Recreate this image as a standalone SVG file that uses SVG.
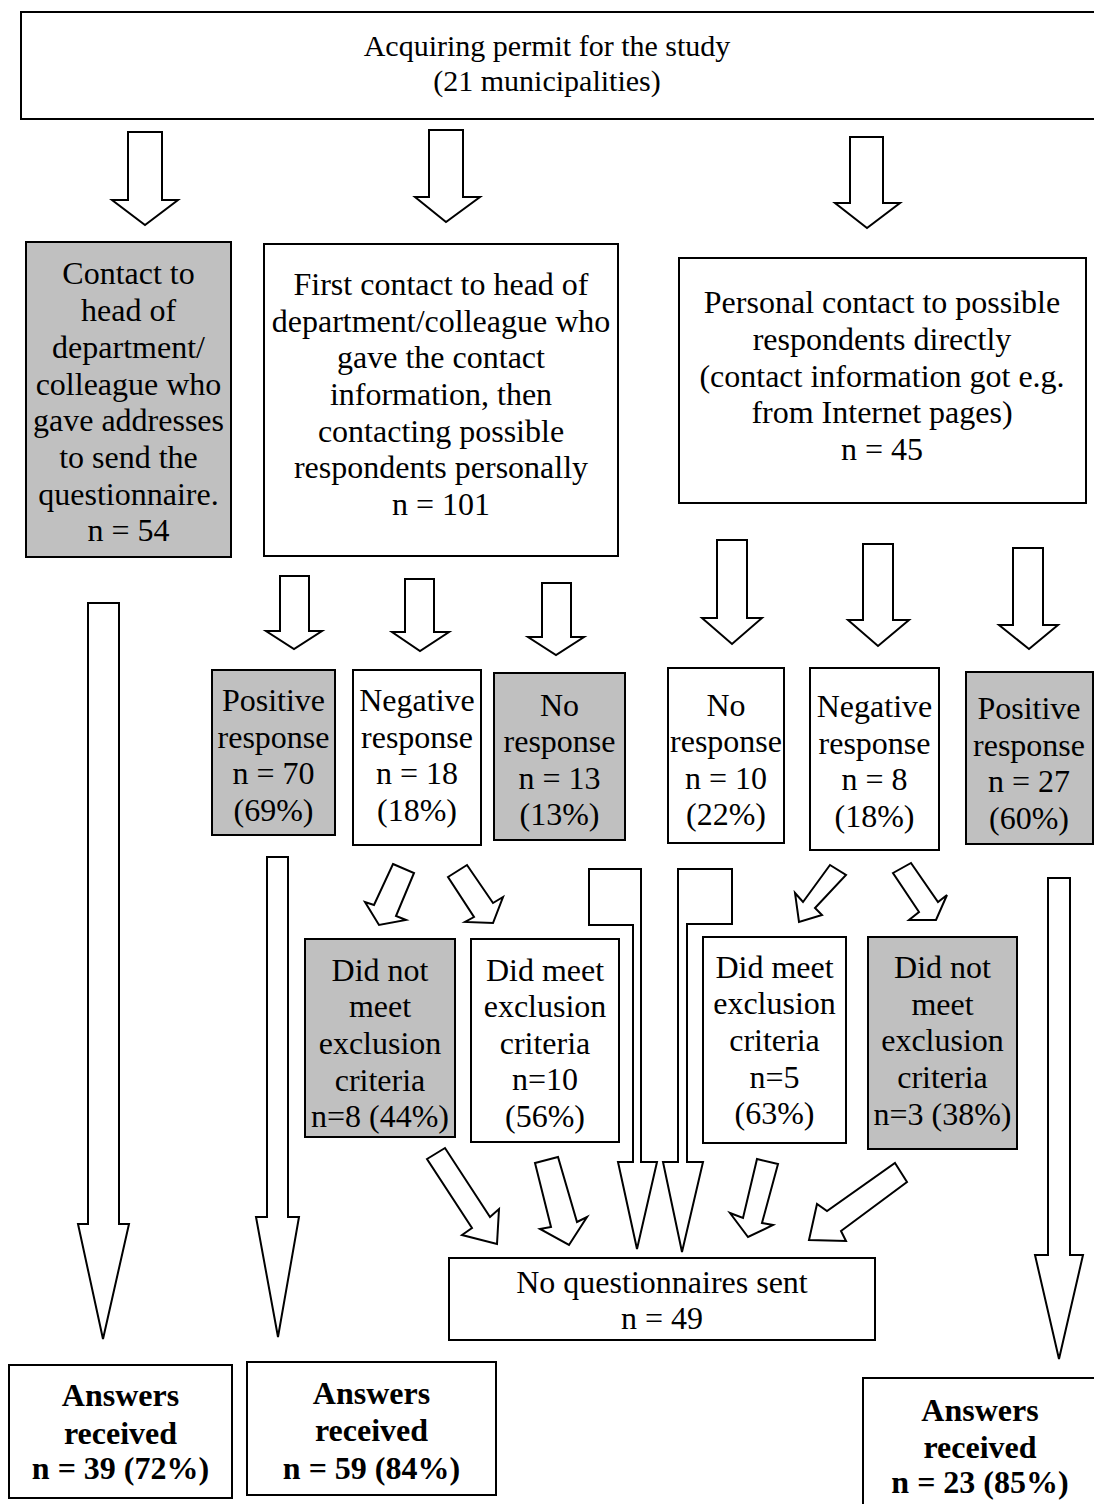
<svg xmlns="http://www.w3.org/2000/svg" width="1094" height="1504" viewBox="0 0 1094 1504">
<style>
.box{fill:#fff;stroke:#000;stroke-width:2}
.gray{fill:#c0c0c0;stroke:#000;stroke-width:2}
.arr{fill:#fff;stroke:#000;stroke-width:2;stroke-linejoin:miter}
text{font-family:"Liberation Serif","Times New Roman",serif;font-size:32px;fill:#000;text-anchor:middle}
.b{font-weight:bold}
.t{font-size:30px}
</style>
<rect width="1094" height="1504" fill="#fff"/>
<g id="connectors">
<polygon class="arr" points="128,132 162,132 162,200 178,200 145,225 112,200 128,200"/>
<polygon class="arr" points="429,130 463,130 463,197 480,197 446,222 415,197 429,197"/>
<polygon class="arr" points="850,137 883,137 883,203 900,203 867,228 835,203 850,203"/>
<polygon class="arr" points="280,576 309,576 309,631 322,631 294,649 266,631 280,631"/>
<polygon class="arr" points="405,579 434,579 434,632 449,632 420,651 392,632 405,632"/>
<polygon class="arr" points="542,583 571,583 571,637 584,637 556,655 528,637 542,637"/>
<polygon class="arr" points="717,540 747,540 747,618 762,618 732,644 702,618 717,618"/>
<polygon class="arr" points="863,544 893,544 893,620 909,620 878,646 848,620 863,620"/>
<polygon class="arr" points="1013,548 1043,548 1043,625 1058,625 1029,649 999,625 1013,625"/>
<polygon class="arr" points="88,603 119,603 119,1224 129,1224 103,1339 78,1224 88,1224"/>
<polygon class="arr" points="267,857 288,857 288,1217 299,1217 278,1337 256,1217 267,1217"/>
<polygon class="arr" points="1048,878 1070,878 1070,1255 1083,1255 1059,1359 1035,1255 1048,1255"/>
<polygon class="arr" points="393,864 414,873 396,916 406,920 379,925 365,902 374,905"/>
<polygon class="arr" points="448,877 467,865 493,903 503,897 493,923 465,922 474,917"/>
<polygon class="arr" points="830,865 846,875 815,908 822,915 799,922 795,893 803,902"/>
<polygon class="arr" points="893,873 911,863 938,902 947,895 936,920 909,920 919,912"/>
<polygon class="arr" points="589,869 641,869 641,1162 657,1162 637,1249 618,1162 633,1162 633,925 589,925"/>
<polygon class="arr" points="678,869 732,869 732,924 687,924 687,1162 703,1162 682,1252 663,1162 678,1162"/>
<polygon class="arr" points="427,1159 445,1148 490,1217 499,1209 497,1244 462,1235 472,1228"/>
<polygon class="arr" points="535,1163 558,1157 577,1222 587,1217 569,1245 540,1229 551,1227"/>
<polygon class="arr" points="757,1159 778,1164 762,1223 773,1225 748,1237 730,1213 743,1218"/>
<polygon class="arr" points="895,1163 907,1182 841,1231 846,1241 809,1240 817,1204 827,1211"/>
</g>
<g id="n-permit">
<rect class="box" x="21" y="12" width="1080" height="107"/>
<text class="t" x="547" y="56">Acquiring permit for the study</text>
<text class="t" x="547" y="91">(21 municipalities)</text>
</g>
<g id="n-contact-head">
<rect class="gray" x="26" y="242" width="205" height="315"/>
<text x="128.5" y="284">Contact to</text>
<text x="128.5" y="321">head of</text>
<text x="128.5" y="358">department/</text>
<text x="128.5" y="395">colleague who</text>
<text x="128.5" y="431">gave addresses</text>
<text x="128.5" y="468">to send the</text>
<text x="128.5" y="505">questionnaire.</text>
<text x="128.5" y="541">n = 54</text>
</g>
<g id="n-first-contact">
<rect class="box" x="264" y="244" width="354" height="312"/>
<text x="441" y="295">First contact to head of</text>
<text x="441" y="332">department/colleague who</text>
<text x="441" y="368">gave the contact</text>
<text x="441" y="405">information, then</text>
<text x="441" y="442">contacting possible</text>
<text x="441" y="478">respondents personally</text>
<text x="441" y="515">n = 101</text>
</g>
<g id="n-personal">
<rect class="box" x="679" y="258" width="407" height="245"/>
<text x="882" y="313">Personal contact to possible</text>
<text x="882" y="350">respondents directly</text>
<text x="882" y="387">(contact information got e.g.</text>
<text x="882" y="423">from Internet pages)</text>
<text x="882" y="460">n = 45</text>
</g>
<g id="n-pos70">
<rect class="gray" x="212" y="670" width="123" height="165"/>
<text x="273.5" y="711">Positive</text>
<text x="273.5" y="748">response</text>
<text x="273.5" y="784">n = 70</text>
<text x="273.5" y="821">(69%)</text>
</g>
<g id="n-neg18">
<rect class="box" x="353" y="670" width="128" height="175"/>
<text x="417" y="711">Negative</text>
<text x="417" y="748">response</text>
<text x="417" y="784">n = 18</text>
<text x="417" y="821">(18%)</text>
</g>
<g id="n-no13">
<rect class="gray" x="494" y="673" width="131" height="167"/>
<text x="559.5" y="716">No</text>
<text x="559.5" y="752">response</text>
<text x="559.5" y="789">n = 13</text>
<text x="559.5" y="825">(13%)</text>
</g>
<g id="n-no10">
<rect class="box" x="668" y="668" width="116" height="175"/>
<text x="726" y="716">No</text>
<text x="726" y="752">response</text>
<text x="726" y="789">n = 10</text>
<text x="726" y="825">(22%)</text>
</g>
<g id="n-neg8">
<rect class="box" x="810" y="668" width="129" height="182"/>
<text x="874.5" y="717">Negative</text>
<text x="874.5" y="754">response</text>
<text x="874.5" y="790">n = 8</text>
<text x="874.5" y="827">(18%)</text>
</g>
<g id="n-pos27">
<rect class="gray" x="966" y="672" width="127" height="172"/>
<text x="1029" y="719">Positive</text>
<text x="1029" y="756">response</text>
<text x="1029" y="792">n = 27</text>
<text x="1029" y="829">(60%)</text>
</g>
<g id="n-didnot8">
<rect class="gray" x="305" y="939" width="150" height="198"/>
<text x="380" y="981">Did not</text>
<text x="380" y="1017">meet</text>
<text x="380" y="1054">exclusion</text>
<text x="380" y="1091">criteria</text>
<text x="380" y="1127">n=8 (44%)</text>
</g>
<g id="n-did10">
<rect class="box" x="471" y="939" width="148" height="203"/>
<text x="545" y="981">Did meet</text>
<text x="545" y="1017">exclusion</text>
<text x="545" y="1054">criteria</text>
<text x="545" y="1090">n=10</text>
<text x="545" y="1127">(56%)</text>
</g>
<g id="n-did5">
<rect class="box" x="703" y="937" width="143" height="206"/>
<text x="774.5" y="978">Did meet</text>
<text x="774.5" y="1014">exclusion</text>
<text x="774.5" y="1051">criteria</text>
<text x="774.5" y="1088">n=5</text>
<text x="774.5" y="1124">(63%)</text>
</g>
<g id="n-didnot3">
<rect class="gray" x="868" y="937" width="149" height="212"/>
<text x="942.5" y="978">Did not</text>
<text x="942.5" y="1015">meet</text>
<text x="942.5" y="1051">exclusion</text>
<text x="942.5" y="1088">criteria</text>
<text x="942.5" y="1125">n=3 (38%)</text>
</g>
<g id="n-noq">
<rect class="box" x="449" y="1258" width="426" height="82"/>
<text x="662" y="1293">No questionnaires sent</text>
<text x="662" y="1329">n = 49</text>
</g>
<g id="n-ans39">
<rect class="box" x="9" y="1365" width="223" height="133"/>
<text class="b" x="120.5" y="1406">Answers</text>
<text class="b" x="120.5" y="1444">received</text>
<text class="b" x="120.5" y="1479">n = 39 (72%)</text>
</g>
<g id="n-ans59">
<rect class="box" x="247" y="1362" width="249" height="133"/>
<text class="b" x="371.5" y="1404">Answers</text>
<text class="b" x="371.5" y="1441">received</text>
<text class="b" x="371.5" y="1479">n = 59 (84%)</text>
</g>
<g id="n-ans23">
<rect class="box" x="863" y="1378" width="240" height="140"/>
<text class="b" x="980" y="1421">Answers</text>
<text class="b" x="980" y="1458">received</text>
<text class="b" x="980" y="1493">n = 23 (85%)</text>
</g>
</svg>
